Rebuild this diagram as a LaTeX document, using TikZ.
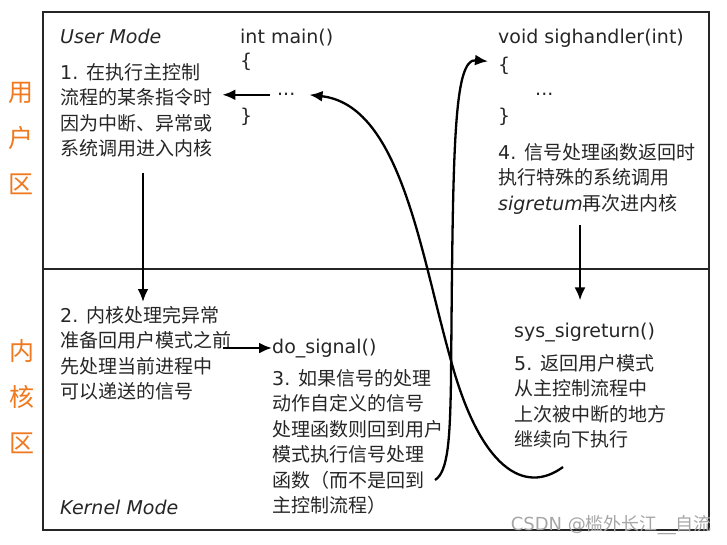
\documentclass[tikz,border=0pt]{standalone}
\usepackage{fontspec}
\setmainfont{DejaVu Sans}
\newfontfamily\cjk{Noto Sans CJK SC}
\usetikzlibrary{positioning, arrows.meta}
\definecolor{zoneorange}{RGB}{240,120,30}

\begin{document}
\begin{tikzpicture}[x=1pt, y=-1pt,
        >={Latex[length=13pt,width=11pt]},
        % text styles
        code/.style={anchor=base west, inner sep=0pt, text=black!85,
                font=\fontsize{19}{25.5}\selectfont},
        note/.style={anchor=north west, inner sep=0pt, align=left, text=black!85,
                font=\fontsize{19}{25.5}\selectfont},
        mode/.style={code, font=\fontsize{19}{25.5}\selectfont\itshape},
        zone/.style={inner sep=0pt, align=center, text=zoneorange,
                font=\cjk\fontsize{25}{46}\selectfont},
        frame/.style={line width=2.6pt, black!85},
        arrow/.style={->, line width=2.3pt},
    ]
    \useasboundingbox (0,0) rectangle (727,545);

    % === FRAME ===
    \draw[frame] (43,12) rectangle (709,530);
    \draw[frame] (43,269) -- (709,269);

    \node[zone] (userzone) at (21,139) {用\\户\\区};
    \node[zone] (kernzone) at (22,397) {内\\核\\区};

    % === USER MODE ===
    \node[mode] (usermode) at (60,44) {User Mode};
    \node[note] (step1) at (60,63) {1. {\cjk 在执行主控制}\\{\cjk 流程的某条指令时}\\
        {\cjk 因为中断、异常或}\\{\cjk 系统调用进入内核}};

    \node[code] (mainfn) at (240,44) {int main()};
    \node[code] (mainopen) at (240,68) {\{};
    \node[code] (maindots) at (277,96) {...};
    \node[code] (mainclose) at (240,123) {\}};

    \node[code] (handler) at (498,44) {void sighandler(int)};
    \node[code] (handleropen) at (498,72) {\{};
    \node[code] (handlerdots) at (535,96) {...};
    \node[code] (handlerclose) at (498,123) {\}};
    \node[note] (step4) at (498,143) {4. {\cjk 信号处理函数返回时}\\{\cjk 执行特殊的系统调用}\\
        {\itshape sigretum}{\cjk 再次进内核}};

    % === KERNEL MODE ===
    \node[note] (step2) at (60,306) {2. {\cjk 内核处理完异常}\\{\cjk 准备回用户模式之前}\\
        {\cjk 先处理当前进程中}\\{\cjk 可以递送的信号}};
    \node[mode] (kernmode) at (60,514) {Kernel Mode};

    \node[code] (dosignal) at (272,353) {do\_signal()};
    \node[note] (step3) at (272,369) {3. {\cjk 如果信号的处理}\\{\cjk 动作自定义的信号}\\
        {\cjk 处理函数则回到用户}\\{\cjk 模式执行信号处理}\\{\cjk 函数（而不是回到}\\
        {\cjk 主控制流程）}};

    \node[code] (sysret) at (514,337) {sys\_sigreturn()};
    \node[note] (step5) at (514,354) {5. {\cjk 返回用户模式}\\{\cjk 从主控制流程中}\\
        {\cjk 上次被中断的地方}\\{\cjk 继续向下执行}};

    \node[anchor=east, inner sep=0pt, text=black!35, font=\fontsize{18}{18}\selectfont]
        (mark) at (712,525) {CSDN @{\cjk 槛外长江}\_\_{\cjk 自流}};

    % === CONNECTIONS ===
    \coordinate (kin) at (143,173);
    \coordinate (kret) at (580,225);
    \coordinate (hook3) at (435,480);
    \coordinate (hook5) at (563,467);

    \draw[arrow] ([xshift=-7pt]maindots.west) -- ([xshift=10pt]step1.east |- maindots.west);
    \draw[arrow] (kin) -- ([yshift=4pt]kin |- step2.north);
    \draw[arrow] ([xshift=-8pt]step2.east |- dosignal.west) -- (dosignal.west);
    \draw[arrow] (kret) -- ([yshift=22pt]kret |- sysret.north);

    % signal handler entered from kernel
    \draw[arrow] (hook3) .. controls (448,472) and (450,440) .. (451,380)
        .. controls (453,150) and (453,58) .. ([shift={(-10pt,5pt)}]handleropen.west);
    % back to the main flow after sys_sigreturn
    \draw[arrow] (hook5) .. controls (525,495) and (480,470) .. (450,357)
        .. controls (420,250) and (400,105) .. ([xshift=14pt]maindots.east);
\end{tikzpicture}
\end{document}
